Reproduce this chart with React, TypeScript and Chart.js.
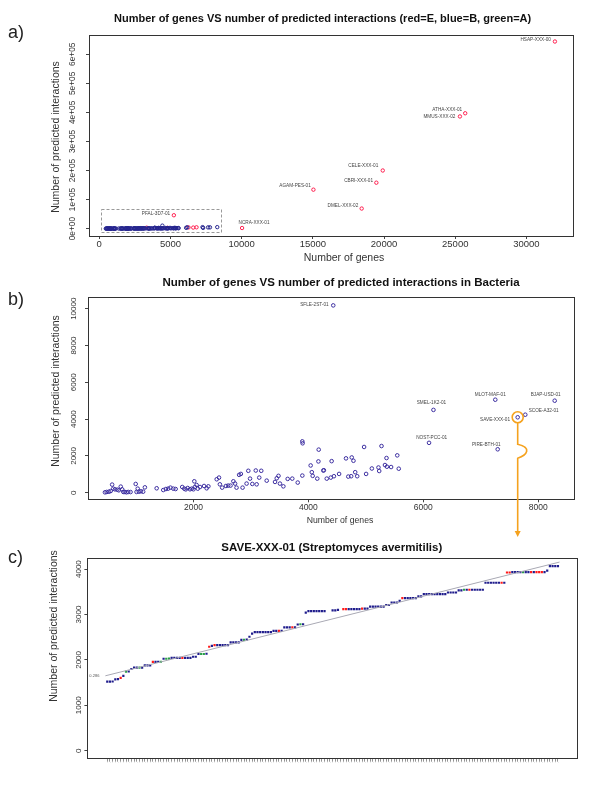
import React, { useEffect, useRef } from "react";
import { Chart, registerables } from "chart.js";
Chart.register(...registerables);

const FONT = "'Liberation Sans', Arial, Helvetica, sans-serif";

// ---------------- Panel a: all genomes ----------------
const eukNames = ["HSAP-XXX-00", "ATHA-XXX-01", "MMUS-XXX-02", "CELE-XXX-01", "CBRI-XXX-01", "AGAM-PES-01", "DMEL-XXX-02", "PFAL-3D7-01", "NCRA-XXX-01"];
const eukGenes = [32000, 25700, 25330, 19910, 19460, 15040, 18430, 5240, 10030];
const eukInteractions = [644000, 397000, 386000, 200000, 158000, 134000, 69000, 46000, 2000];
const eukOtherGenes = [3330, 4800, 6270, 6600, 6830];
const eukOtherInteractions = [3000, 2500, 4000, 3500, 4500];
const archGenes = [1580, 1900, 2510, 2900];
const archInteractions = [800, 900, 1200, 1500];
const aXTicks = [0, 5000, 10000, 15000, 20000, 25000, 30000];
const aYTicks = [0, 100000, 200000, 300000, 400000, 500000, 600000];
const aZoomBoxGenes = [105, 8547];
const aZoomBoxInteractions = [-13800, 66400];

// ---------------- Panel b: bacteria ----------------
const bactGenes = [460, 490, 530, 560, 585, 605, 635, 675, 700, 735, 760, 780, 805, 835, 865, 905, 995, 1010, 1030, 1050, 1085, 1125, 1155, 1360, 1475, 1520, 1560, 1600, 1650, 1690, 1805, 1840, 1865, 1900, 1940, 1970, 2000, 2015, 2025, 2055, 2075, 2115, 2185, 2230, 2260, 2405, 2445, 2460, 2500, 2565, 2605, 2645, 2695, 2725, 2750, 2795, 2825, 2855, 2925, 2955, 2985, 3025, 3085, 3100, 3145, 3180, 3275, 3420, 3450, 3480, 3505, 3565, 3640, 3720, 3815, 3895, 3895, 3900, 4040, 4060, 4075, 4155, 4175, 4180, 4260, 4270, 4320, 4390, 4405, 4445, 4535, 4655, 4695, 4745, 4755, 4785, 4815, 4850, 4970, 5005, 5105, 5220, 5273, 5360, 5547, 5333, 5367, 5440, 5573, 5233];
const bactInteractions = [20, 40, 55, 90, 440, 220, 180, 165, 130, 330, 180, 40, 40, 20, 40, 35, 475, 40, 220, 55, 75, 55, 290, 240, 145, 200, 220, 275, 220, 200, 310, 220, 180, 255, 185, 220, 185, 620, 310, 420, 220, 310, 365, 240, 345, 730, 820, 455, 275, 365, 385, 385, 620, 495, 275, 970, 1020, 275, 495, 1190, 765, 475, 1205, 455, 820, 1190, 655, 585, 785, 915, 495, 345, 750, 765, 550, 930, 2790, 2685, 1480, 1115, 915, 765, 1700, 2340, 1205, 1220, 765, 820, 1715, 895, 1020, 1865, 875, 895, 1915, 1735, 1115, 895, 2485, 1020, 1315, 1370, 2536, 1884, 2029, 1504, 1413, 1395, 1304, 1178];
const bactNames = ["SFLE-2ST-01", "SMEL-1K2-01", "NOST-PCC-01", "MLOT-MAF-01", "BJAP-USD-01", "SCOE-A32-01", "SAVE-XXX-01", "PIRE-BTH-01"];
const bactNamedGenes = [4433, 6177, 6100, 7253, 8287, 7775, 7643, 7295];
const bactNamedInteractions = [10180, 4500, 2710, 5054, 5000, 4239, 4098, 2359];
const bXTicks = [2000, 4000, 6000, 8000];
const bYTicks = [0, 2000, 4000, 6000, 8000, 10000];
const highlightedName = "SAVE-XXX-01";

// ---------------- Panel c: SAVE-XXX-01 ----------------
const saveInteractions = [
  1520, 1520, 1525, 1570, 1575, 1605, 1650, 1740, 1745, 1800,
  1830, 1830, 1830, 1830, 1880, 1880, 1880, 1955, 1955, 1960,
  1960, 2025, 2025, 2030, 2045, 2045, 2045, 2045, 2045, 2045,
  2045, 2045, 2070, 2070, 2130, 2130, 2130, 2135, 2290, 2310,
  2325, 2325, 2325, 2325, 2325, 2325, 2385, 2385, 2385, 2385,
  2440, 2440, 2445, 2510, 2580, 2610, 2610, 2610, 2610, 2610,
  2610, 2610, 2640, 2640, 2640, 2640, 2715, 2715, 2715, 2715,
  2715, 2780, 2785, 2785, 3040, 3075, 3075, 3075, 3075, 3075,
  3075, 3075, null, null, 3090, 3090, 3100, null, 3120, 3120,
  3120, 3120, 3120, 3120, 3120, 3130, 3130, 3130, 3175, 3175,
  3175, 3175, 3175, 3175, 3210, 3210, 3265, 3265, 3265, 3300,
  3360, 3360, 3360, 3360, 3360, 3360, 3400, 3400, 3450, 3450,
  3450, 3450, 3450, 3450, 3450, 3450, 3450, 3485, 3485, 3485,
  3485, 3530, 3530, 3545, 3545, 3545, 3545, 3545, 3545, 3545,
  3545, 3700, 3700, 3700, 3700, 3700, 3700, 3700, 3700, 3925,
  3925, 3935, 3935, 3935, 3935, 3935, 3935, 3935, 3935, 3935,
  3935, 3935, 3935, 3935, 3965, 4065, 4065, 4065, 4065,
];
const saveGroups = (
  "bbbbbrbgbb" + "bbgbbbbrbb" + "gbggbbbbrb" + "bbbbbggbrb" + "rbbbbbbbbb" +
  "bgbbbbbbbb" + "bbbbrbbbbr" + "bbgbbbbbbb" + "bb--bbb-rr" + "bbbbbrbbbb" +
  "bbbbbbbbbb" + "rbbbbbbbbb" + "bbbbbbbbbb" + "bbbgbrbbbb" + "bbbbbbbrbr" +
  "rbbbbgbbrb" + "rrrbbbbbb"
).split("");
const saveFitIndex = [-0.7, 168.6];
const saveFitInteractions = [1650, 4155];
const saveFitLabel = "0.286";
const cYTicks = [0, 1000, 2000, 3000, 4000];

// ---------------- styling helpers ----------------
const RED = "#ff1f4f";
const BLUE_A = "#25248e";
const BLUE_B = "#3c2ea0";
const GREEN = "#2e9e3e";
const groupColor: Record<string, string> = { b: "#1f1c8c", r: "#ff1a1a", g: "#2aa048", "-": "#1f1c8c" };

const eukLabelPlace: [number, number, CanvasTextAlign][] = [
  [-4, -1.5, "right"], [-3, -3.3, "right"], [-4.5, 0.3, "right"], [-4.5, -4.3, "right"],
  [-3.3, -2.3, "right"], [-2.6, -4, "right"], [-3.4, -3, "right"], [-3.7, -1.7, "right"], [12, -5.4, "center"],
];
const bactLabelPlace: [number, number, CanvasTextAlign][] = [
  [-4.6, -1, "right"], [-2, -6.7, "center"], [2.7, -5, "center"], [-5, -5.4, "center"],
  [-9, -6.4, "center"], [3.4, -4.4, "left"], [-7.7, 2, "right"], [-11.4, -4.6, "center"],
];

function txt(ctx: CanvasRenderingContext2D, s: string, x: number, y: number, font: string, color = "#222", align: CanvasTextAlign = "center", rot = 0) {
  ctx.save();
  ctx.font = font;
  ctx.fillStyle = color;
  ctx.textAlign = align;
  ctx.textBaseline = "middle";
  ctx.translate(x, y);
  if (rot) ctx.rotate(rot);
  ctx.fillText(s, 0, 0);
  ctx.restore();
}

function drawBox(chart: any) {
  const { ctx, chartArea: a } = chart;
  ctx.save();
  ctx.strokeStyle = "#333";
  ctx.lineWidth = 1;
  ctx.strokeRect(Math.round(a.left) + 0.5, Math.round(a.top) + 0.5, Math.round(a.right - a.left), Math.round(a.bottom - a.top));
  ctx.restore();
}

function drawYTickLabels(chart: any, ticks: number[], fmt: (v: number) => string, x: number, size: number) {
  const ys = chart.scales.y;
  ticks.forEach((v) => {
    txt(chart.ctx, fmt(v), x, ys.getPixelForValue(v), `${size}px ${FONT}`, "#333", "center", -Math.PI / 2);
  });
}

interface Frame {
  xMin: number; xMax: number; yMin: number; yMax: number;
  xTicks: number[]; yTicks: number[];
  left: number; top: number; right: number; xAxisH: number;
  xFontSize: number; xLabels: boolean; tickLen: number;
  xFmt?: (v: number) => string; xTickColor?: string;
}

function scalesFor(f: Frame): any {
  const grid = { display: true, drawOnChartArea: false, drawTicks: true, tickLength: f.tickLen, color: "#444", lineWidth: 1 };
  return {
    x: {
      type: "linear", min: f.xMin, max: f.xMax,
      afterBuildTicks: (s: any) => { s.ticks = f.xTicks.map((v) => ({ value: v })); },
      afterFit: (s: any) => { s.height = f.xAxisH; },
      grid: { ...grid, color: f.xTickColor || "#444" },
      border: { display: false },
      ticks: {
        display: f.xLabels, autoSkip: false, maxRotation: 0, minRotation: 0, padding: 0,
        color: "#333", font: { family: FONT, size: f.xFontSize },
        callback: (v: any) => (f.xFmt ? f.xFmt(Number(v)) : String(v)),
      },
    },
    y: {
      type: "linear", min: f.yMin, max: f.yMax,
      afterBuildTicks: (s: any) => { s.ticks = f.yTicks.map((v) => ({ value: v })); },
      afterFit: (s: any) => { s.width = f.left; },
      grid,
      border: { display: false },
      ticks: { display: false },
    },
  };
}

function baseOptions(f: Frame): any {
  return {
    responsive: false,
    animation: false,
    devicePixelRatio: 1,
    events: [],
    layout: { padding: { left: 0, top: f.top, right: 600 - f.right, bottom: 0 } },
    plugins: { legend: { display: false }, tooltip: { enabled: false }, title: { display: false } },
    scales: scalesFor(f),
  };
}

const pts = (xs: number[], ys: (number | null)[]) => xs.map((x, i) => ({ x, y: ys[i] }));
const circleDs = (data: any[], color: string, r = 1.7) => ({
  data, pointStyle: "circle", pointRadius: r, borderWidth: 1, borderColor: color,
  backgroundColor: "rgba(0,0,0,0)", showLine: false,
});

function configA(): any {
  const f: Frame = {
    xMin: -720, xMax: 33270, yMin: -25500, yMax: 666400, xTicks: aXTicks, yTicks: aYTicks,
    left: 89, top: 35, right: 573, xAxisH: 34, xFontSize: 9.5, xLabels: true, tickLen: 3,
  };
  return {
    type: "scatter",
    data: {
      datasets: [
        circleDs(pts(bactGenes, bactInteractions).concat(pts(bactNamedGenes, bactNamedInteractions)), BLUE_A),
        circleDs(pts(eukGenes, eukInteractions).concat(pts(eukOtherGenes, eukOtherInteractions)), RED),
        circleDs(pts(archGenes, archInteractions), GREEN),
      ],
    },
    options: baseOptions(f),
    plugins: [{
      id: "decoA",
      afterDraw(chart: any) {
        const { ctx, scales: { x, y } } = chart;
        drawBox(chart);
        drawYTickLabels(chart, aYTicks, (v) => (v === 0 ? "0e+00" : `${v / 100000}e+05`), 73, 8.3);
        txt(ctx, "a)", 8, 33, `18px ${FONT}`, "#222", "left");
        txt(ctx, "Number of genes VS number of predicted interactions (red=E, blue=B, green=A)", 322.6, 19, `bold 11px ${FONT}`, "#111");
        txt(ctx, "Number of predicted interactions", 56, 137, `10.5px ${FONT}`, "#333", "center", -Math.PI / 2);
        txt(ctx, "Number of genes", 344, 258, `10.5px ${FONT}`, "#333");
        // dashed zoom box
        ctx.save();
        ctx.strokeStyle = "#999";
        ctx.lineWidth = 1;
        ctx.setLineDash([3, 2]);
        const x0 = x.getPixelForValue(aZoomBoxGenes[0]), x1 = x.getPixelForValue(aZoomBoxGenes[1]);
        const y0 = y.getPixelForValue(aZoomBoxInteractions[1]), y1 = y.getPixelForValue(aZoomBoxInteractions[0]);
        ctx.strokeRect(Math.round(x0) + 0.5, Math.round(y0) + 0.5, Math.round(x1 - x0), Math.round(y1 - y0));
        ctx.restore();
        eukNames.forEach((n, i) => {
          const [dx, dy, al] = eukLabelPlace[i];
          txt(ctx, n, x.getPixelForValue(eukGenes[i]) + dx, y.getPixelForValue(eukInteractions[i]) + dy, `4.7px ${FONT}`, "#444", al);
        });
      },
    }],
  };
}

function configB(): any {
  const f: Frame = {
    xMin: 165, xMax: 8616, yMin: -359, yMax: 10620, xTicks: bXTicks, yTicks: bYTicks,
    left: 88, top: 27.3, right: 573.6, xAxisH: 40.7, xFontSize: 8.5, xLabels: true, tickLen: 3,
  };
  return {
    type: "scatter",
    data: {
      datasets: [circleDs(pts(bactGenes, bactInteractions).concat(pts(bactNamedGenes, bactNamedInteractions)), BLUE_B, 1.8)],
    },
    options: baseOptions(f),
    plugins: [{
      id: "decoB",
      afterDraw(chart: any) {
        const { ctx, scales: { x, y } } = chart;
        drawBox(chart);
        drawYTickLabels(chart, bYTicks, (v) => String(v), 74, 8);
        txt(ctx, "b)", 8, 30, `18px ${FONT}`, "#222", "left");
        txt(ctx, "Number of genes VS number of predicted interactions in Bacteria", 341, 13.3, `bold 11.5px ${FONT}`, "#111");
        txt(ctx, "Number of predicted interactions", 56, 121, `10.5px ${FONT}`, "#333", "center", -Math.PI / 2);
        txt(ctx, "Number of genes", 340, 251, `8.7px ${FONT}`, "#333");
        bactNames.forEach((n, i) => {
          const [dx, dy, al] = bactLabelPlace[i];
          txt(ctx, n, x.getPixelForValue(bactNamedGenes[i]) + dx, y.getPixelForValue(bactNamedInteractions[i]) + dy, `4.7px ${FONT}`, "#444", al);
        });
        // orange highlight + arrow towards panel c
        const k = bactNames.indexOf(highlightedName);
        const px = x.getPixelForValue(bactNamedGenes[k]);
        const py = y.getPixelForValue(bactNamedInteractions[k]);
        const r = 5.5;
        const tip = chart.height - 3;
        ctx.save();
        ctx.strokeStyle = "#f5a21e";
        ctx.fillStyle = "#f5a21e";
        ctx.lineWidth = 1.6;
        ctx.beginPath();
        ctx.arc(px, py, r, 0, Math.PI * 2);
        ctx.stroke();
        const b0 = py + 27;
        ctx.beginPath();
        ctx.moveTo(px, py + r);
        ctx.lineTo(px, b0);
        ctx.bezierCurveTo(px + 4, b0 + 1, px + 10, b0 + 3, px + 9, b0 + 7);
        ctx.bezierCurveTo(px + 8, b0 + 11, px + 3, b0 + 13, px, b0 + 14);
        ctx.lineTo(px, tip - 5);
        ctx.stroke();
        ctx.beginPath();
        ctx.moveTo(px - 3, tip - 6);
        ctx.lineTo(px + 3, tip - 6);
        ctx.lineTo(px, tip);
        ctx.closePath();
        ctx.fill();
        ctx.restore();
      },
    }],
  };
}

function configC(): any {
  const idx = saveInteractions.map((_, i) => i);
  const f: Frame = {
    xMin: -7.4, xMax: 175.4, yMin: -176, yMax: 4238, xTicks: idx, yTicks: cYTicks,
    left: 87.4, top: 18.3, right: 577.8, xAxisH: 40.3, xFontSize: 3, xLabels: true, tickLen: 3,
    xFmt: () => "-", xTickColor: "#777",
  };
  const opts = baseOptions(f);
  opts.scales.x.ticks.minRotation = 90;
  opts.scales.x.ticks.maxRotation = 90;
  opts.scales.x.ticks.color = "#888";
  opts.scales.x.grid.lineWidth = 0.8;
  return {
    type: "scatter",
    data: {
      datasets: [
        {
          data: pts(saveFitIndex, saveFitInteractions), showLine: true, borderColor: "#a9a9b4",
          borderWidth: 1, pointRadius: 0, fill: false,
        },
        {
          data: pts(idx, saveInteractions), showLine: false, pointStyle: "rect", pointRadius: 1.55,
          borderWidth: 0,
          backgroundColor: saveGroups.map((g) => groupColor[g] || groupColor.b),
        },
      ],
    },
    options: opts,
    plugins: [{
      id: "decoC",
      afterDraw(chart: any) {
        const { ctx, scales: { x, y } } = chart;
        drawBox(chart);
        drawYTickLabels(chart, cYTicks, (v) => String(v), 78.5, 8);
        txt(ctx, "c)", 8, 17.7, `18px ${FONT}`, "#222", "left");
        txt(ctx, "SAVE-XXX-01 (Streptomyces avermitilis)", 331.8, 7.7, `bold 11.5px ${FONT}`, "#111");
        txt(ctx, "Number of predicted interactions", 54, 86, `10.5px ${FONT}`, "#333", "center", -Math.PI / 2);
        txt(ctx, saveFitLabel, x.getPixelForValue(saveFitIndex[0]) - 6, y.getPixelForValue(saveFitInteractions[0]), `4px ${FONT}`, "#555", "right");
      },
    }],
  };
}

export default function App() {
  const refA = useRef<HTMLCanvasElement>(null);
  const refB = useRef<HTMLCanvasElement>(null);
  const refC = useRef<HTMLCanvasElement>(null);
  useEffect(() => {
    document.body.style.margin = "0";
    const charts = [
      new Chart(refA.current!, configA()),
      new Chart(refB.current!, configB()),
      new Chart(refC.current!, configC()),
    ];
    return () => charts.forEach((c) => c.destroy());
  }, []);
  const cs = (top: number, h: number): React.CSSProperties => ({ position: "absolute", left: 0, top, width: 600, height: h });
  return (
    <div style={{ position: "relative", width: 600, height: 799, background: "#fff", overflow: "hidden" }}>
      <canvas ref={refA} width={600} height={270} style={cs(0, 270)} />
      <canvas ref={refB} width={600} height={270} style={cs(270, 270)} />
      <canvas ref={refC} width={600} height={259} style={cs(540, 259)} />
    </div>
  );
}
